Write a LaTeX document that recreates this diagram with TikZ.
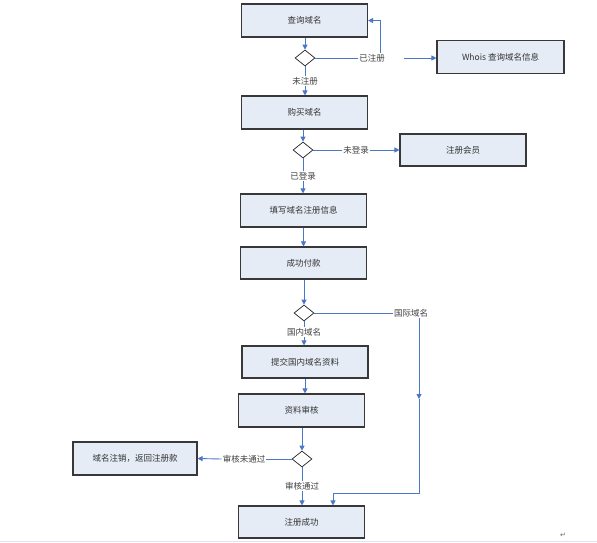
\documentclass[tikz,border=0pt]{standalone}
\usepackage{fontspec}
\newfontfamily\cjk{Noto Sans CJK SC}
\newfontfamily\symfont{DejaVu Sans}
\usetikzlibrary{arrows.meta,shapes.geometric}
\definecolor{boxfill}{HTML}{E6ECF6}
\definecolor{boxline}{HTML}{383838}
\definecolor{flowblue}{HTML}{4A78C6}
\tikzset{
	stepbox/.style={draw=boxline, line width=1.1pt, fill=boxfill, minimum width=126pt, minimum height=33pt, inner sep=0pt, font=\cjk\fontsize{8.5}{10}\selectfont, text=black!80},
	choice/.style={draw=black!85, line width=0.7pt, fill=white, diamond, minimum width=20pt, minimum height=16pt, inner sep=0pt},
	lbl/.style={fill=white, inner sep=1pt, font=\cjk\fontsize{8.5}{10}\selectfont, text=black!75},
	flow/.style={draw=flowblue, line width=0.9pt},
	arr/.style={flow, -{Triangle[width=5pt,length=5pt]}}
}
\begin{document}
\begin{tikzpicture}[x=1pt,y=-1pt]
			%%%%% START %%%%%
			\useasboundingbox (0,0) rectangle (597,542);
			
			\node[stepbox] (query) at (304.5, 20.5) {查询域名};
			\node[choice] (d1) at (305, 58) {};
			\node[lbl] (reg) at (372, 58) {已注册};
			\node[stepbox, minimum width=127pt] (whois) at (500.5, 57) {Whois 查询域名信息};
			\node[lbl] (unreg) at (305, 81) {未注册};
			\coordinate (up1) at (380, 58);
			
			\node[stepbox] (buy) at (304.5, 112.5) {购买域名};
			\node[choice] (d2) at (303, 150) {};
			\node[lbl] (nolog) at (356, 150) {未登录};
			\node[stepbox, minimum height=32pt] (member) at (463, 150) {注册会员};
			\node[lbl] (login) at (303, 176) {已登录};
			
			\node[stepbox] (fill) at (303.5, 210.5) {填写域名注册信息};
			\node[stepbox, minimum height=32pt] (pay) at (303.5, 263) {成功付款};
			
			\node[choice] (d3) at (304, 313) {};
			\node[lbl] (intl) at (411, 313) {国际域名};
			\node[lbl] (home) at (304, 332) {国内域名};
			\coordinate (down1) at (419, 399);
			\coordinate (down2) at (333, 493);
			
			\node[stepbox, minimum height=32pt] (submit) at (305, 362) {提交国内域名资料};
			\node[stepbox] (review) at (301.5, 410.5) {资料审核};
			
			\node[choice] (d4) at (302, 459) {};
			\node[lbl] (fail) at (244, 459) {审核未通过};
			\node[stepbox, minimum width=124pt] (cancel) at (135, 458.5) {域名注销，返回注册款};
			\node[lbl] (pass) at (302, 486) {审核通过};
			\node[stepbox, minimum height=32pt] (done) at (301.5, 522) {注册成功};
			
			\draw[arr] (query.south -| d1) -- (d1.north);
			\draw[flow] (d1.east) -- (reg.west);
			\draw[arr] ([xshift=18pt]reg.east) -- (reg -| whois.west);
			\draw[arr] (reg.north -| up1) |- (query.east);
			\draw[flow] (d1.south) -- (unreg.north);
			\draw[arr] (unreg.south) -- (unreg.south |- buy.north);
			
			\draw[arr] (buy.south -| d2) -- (d2.north);
			\draw[flow] (d2.east) -- (nolog.west);
			\draw[arr] (nolog.east) -- (member.west);
			\draw[flow] (d2.south) -- (login.north);
			\draw[arr] (login.south) -- (login.south |- fill.north);
			
			\draw[arr] (fill.south -| pay) -- (pay.north);
			\draw[arr] (pay.south -| d3) -- (d3.north);
			\draw[flow] (d3.east) -- (intl.west);
			\draw[arr] (intl.south -| down1) -- (down1);
			\draw[arr] (down1) |- (down2) -- (down2 |- done.north);
			\draw[flow] (d3.south) -- (home.north);
			\draw[arr] (home.south) -- (home.south |- submit.north);
			
			\draw[arr] (submit.south) -- (submit.south |- review.north);
			\draw[arr] (review.south -| d4) -- (d4.north);
			\draw[flow] (d4.west) -- (fail.east);
			\draw[arr] (fail.west) -- (cancel.east);
			\draw[flow] (d4.south) -- (pass.north);
			\draw[arr] (pass.south) -- (pass.south |- done.north);
			
			\draw[line width=0.8pt, color=blue!12] (0, 541) -- (597, 541);
			\node[font=\symfont\fontsize{7}{8}\selectfont, text=black!60, inner sep=0pt] (mark) at (563, 535) {↵};
			%%%%% END %%%%%
		\end{tikzpicture}
\end{document}
